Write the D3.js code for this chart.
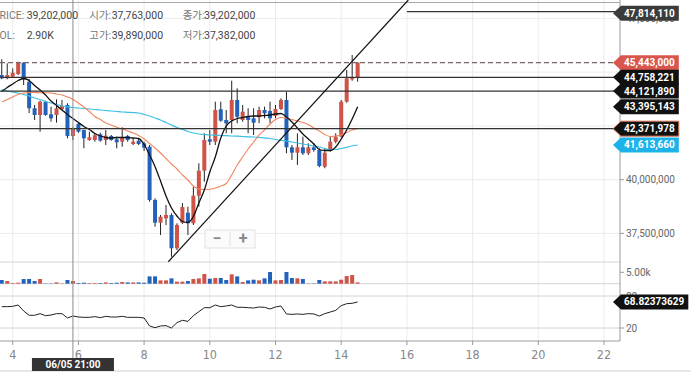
<!DOCTYPE html>
<html>
<head>
<meta charset="utf-8">
<script src="https://cdn.jsdelivr.net/npm/d3@7"></script>
<style>
  body { margin: 0; background: #fff; }
  svg { display: block; font-family: Roboto, 'Noto Sans CJK KR', sans-serif; }
</style>
</head>
<body>
<svg id="chart" width="691" height="372"></svg>
<script>
// 4h candles, first one at 06/03 16:00
const start = new Date(2021, 5, 3, 16)

const opens = [44868000, 44714000, 44788000, 44914000, 45440000, 44556000, 43319000, 43007000, 43626000, 43040000,
  43007000, 43272000, 43472000, 42030000, 42589000, 42309000, 41844000, 41844000, 42109000, 41844000,
  42030000, 41877000, 41765000, 42030000, 41658000, 41812000, 41691000, 41533000, 39054000, 37998000,
  38202000, 38356000, 36807000, 37990000, 38463000, 37970000, 39254000, 40416000, 41877000, 41765000,
  43272000, 42775000, 42775000, 43705000, 42775000, 42961000, 42854000, 42900000, 43240000, 43193000,
  42961000, 43286000, 43705000, 41505000, 41254000, 41505000, 41226000, 41505000, 41379000, 40602000,
  41379000, 41765000, 41998000, 43626000, 44668000, 44760000]
const highs = [45598000, 45411000, 45179000, 45486000, 45460000, 44681000, 43472000, 43670000, 43670000, 43393000,
  43737000, 43705000, 43551000, 42435000, 42649000, 42320000, 42230000, 42156000, 42180000, 42309000,
  42077000, 41998000, 42435000, 42077000, 41923000, 41923000, 41765000, 41612000, 39133000, 38356000,
  38821000, 38435000, 37970000, 38910000, 38742000, 39672000, 40761000, 42156000, 42309000, 43626000,
  43626000, 43240000, 44602000, 44249000, 43472000, 43319000, 43319000, 43393000, 43393000, 43626000,
  43472000, 43784000, 44091000, 41612000, 42156000, 41998000, 41691000, 41691000, 41458000, 41458000,
  41998000, 42156000, 43705000, 45100000, 45797000, 45460000]
const lows = [44668000, 44668000, 44770000, 44868000, 44402000, 43100000, 42775000, 42230000, 42970000, 42695000,
  42649000, 43240000, 41923000, 41844000, 42180000, 41458000, 41812000, 41765000, 41765000, 41612000,
  41812000, 41458000, 41533000, 41765000, 41612000, 41612000, 41333000, 38975000, 37812000, 37426000,
  37891000, 36416000, 36728000, 37940000, 37426000, 37891000, 38742000, 39905000, 41612000, 41612000,
  42695000, 42156000, 42156000, 42621000, 42695000, 42156000, 42077000, 42621000, 42854000, 42621000,
  42854000, 43240000, 41226000, 40914000, 40682000, 41150000, 41150000, 41300000, 40575000, 40530000,
  41300000, 41691000, 41970000, 43579000, 44602000, 44556000]
const closes = [44714000, 44868000, 44974000, 45440000, 44668000, 43319000, 43007000, 43626000, 43007000, 42854000,
  43319000, 43426000, 42030000, 42356000, 42230000, 41923000, 41970000, 42063000, 41812000, 42044000,
  41844000, 41737000, 41970000, 41844000, 41765000, 41658000, 41486000, 39054000, 37998000, 38277000,
  38356000, 36807000, 37891000, 38728000, 37970000, 39254000, 40416000, 41844000, 41765000, 43240000,
  42742000, 42621000, 43705000, 42928000, 43161000, 42775000, 42649000, 43240000, 43086000, 42854000,
  43286000, 43705000, 41505000, 41254000, 41505000, 41226000, 41505000, 41379000, 40635000, 41254000,
  41765000, 41998000, 43626000, 44714000, 44760000, 45443000]
const volumes = [1610, 1170, 290, 440, 2050, 2050, 1170, 2050, 150, 150,
  580, 150, 1610, 1170, 290, 440, 290, 290, 290, 580,
  290, 440, 730, 580, 580, 580, 440, 3220, 3220, 1460,
  1460, 2340, 880, 880, 1170, 2050, 2340, 4240, 2190, 2490,
  2490, 1610, 4090, 3220, 730, 1460, 1750, 1460, 2340, 5120,
  1460, 1610, 5120, 2490, 2340, 2050, 150, 150, 1610, 1020,
  1020, 1020, 1750, 3360, 3800, 580]

const maShort = [44100000, 44286000, 44449000, 44612000, 44705000, 44612000, 44379000, 44170000, 43937000, 43658000,
  43449000, 43240000, 43030000, 42844000, 42658000, 42472000, 42333000, 42147000, 42030000, 41961000,
  41937000, 41961000, 41961000, 41961000, 41937000, 41914000, 41635000, 41147000, 40602000, 39937000,
  39240000, 38682000, 38309000, 38054000, 38007000, 38286000, 38914000, 39519000, 40356000, 41054000,
  41937000, 42495000, 42728000, 42844000, 42891000, 42937000, 42961000, 42961000, 42984000, 43007000,
  43054000, 43077000, 42914000, 42682000, 42402000, 42123000, 41891000, 41658000, 41402000, 41356000,
  41356000, 41519000, 41891000, 42309000, 42821000, 43395143]
const maMid = [43612000, 43728000, 43844000, 43961000, 44030000, 44054000, 44054000, 44044000, 44044000, 44030000,
  43984000, 43937000, 43844000, 43728000, 43565000, 43379000, 43170000, 42937000, 42798000, 42635000,
  42542000, 42435000, 42356000, 42263000, 42170000, 42054000, 41891000, 41682000, 41472000, 41240000,
  40984000, 40728000, 40495000, 40216000, 39984000, 39705000, 39565000, 39542000, 39551000, 39612000,
  39705000, 39821000, 40216000, 40682000, 41054000, 41426000, 41751000, 42077000, 42309000, 42589000,
  42798000, 42891000, 42868000, 42798000, 42728000, 42658000, 42565000, 42402000, 42263000, 42100000,
  42007000, 42030000, 42077000, 42193000, 42309000, 42371978]
const maLong = [44184000, 44123000, 44077000, 44030000, 43961000, 43891000, 43798000, 43728000, 43635000, 43565000,
  43496000, 43426000, 43389000, 43356000, 43333000, 43309000, 43286000, 43263000, 43240000, 43216000,
  43193000, 43170000, 43147000, 43133000, 43119000, 43100000, 43030000, 42961000, 42868000, 42775000,
  42658000, 42542000, 42426000, 42333000, 42240000, 42170000, 42123000, 42100000, 42077000, 42068000,
  42054000, 42044000, 42030000, 42021000, 42007000, 41993000, 41984000, 41970000, 41947000, 41914000,
  41868000, 41830000, 41798000, 41751000, 41705000, 41658000, 41612000, 41565000, 41519000, 41449000,
  41402000, 41402000, 41449000, 41505000, 41565000, 41613660]
const rsi = [60.0, 60.0, 60.6, 63.1, 51.9, 43.8, 43.8, 46.9, 43.1, 44.4,
  46.9, 46.9, 38.8, 42.5, 40.6, 40.0, 40.0, 41.3, 39.4, 41.9,
  40.6, 40.6, 41.9, 40.0, 40.0, 40.0, 38.8, 23.8, 20.6, 23.8,
  24.4, 20.0, 30.0, 34.4, 32.5, 43.1, 50.6, 58.1, 58.1, 63.1,
  60.0, 61.3, 63.1, 58.8, 58.8, 58.1, 57.5, 59.4, 58.8, 55.6,
  59.4, 61.3, 46.3, 45.6, 46.3, 45.6, 46.9, 46.3, 42.5, 46.9,
  50.0, 53.1, 61.9, 65.6, 66.3, 68.82373629]

// horizontal lines drawn on the chart
const levels = [44758221, 44121890, 42371978]
const topLevel = 47814110
const topLevelStart = new Date(2021, 5, 16, 0)
const lastPrice = 45443000
const trendPoints = [[new Date(2021, 5, 8, 17, 41), 36180000], [new Date(2021, 5, 16, 1, 2), 48356000]]

const priceTicks = [37500000, 40000000, 42500000, 45000000, 47500000]
const dayTicks = [4, 6, 8, 10, 12, 14, 16, 18, 20, 22]
const crossIndex = 13
const crossLabel = '06/05 21:00'
const legendRows = [
  [['PRICE:', '39,202,000'], ['시가:', '37,763,000'], ['종가:', '39,202,000']],
  [['VOL:', '2.90K'], ['고가:', '39,890,000'], ['저가:', '37,382,000']]
]

const UP = '#cf5347'
const DOWN = '#2262bb'
const plotRight = 620
const mainBottom = 262
const axisY = 341

const svg = d3.select('#chart')
const times = opens.map((d, i) => d3.timeHour.offset(start, 4 * i))

const x = d3.scaleTime()
  .domain([new Date(2021, 5, 3, 14, 43), new Date(2021, 5, 22, 11, 41)])
  .range([0, plotRight])
const y = d3.scaleLinear().domain([37500000, 47500000]).range([233.4, 18.4])
const yVol = d3.scaleLinear().domain([0, 5000]).range([283.7, 272.3])
const yRsi = d3.scaleLinear().domain([20, 80]).range([328, 296])
const dayDate = d => new Date(2021, 5, d)

svg.append('clipPath').attr('id', 'mainClip')
  .append('rect').attr('x', 0).attr('y', 0).attr('width', plotRight).attr('height', mainBottom)

// grid
const grid = svg.append('g')
grid.selectAll('.vg').data(dayTicks).join('line')
  .attr('x1', d => x(dayDate(d))).attr('x2', d => x(dayDate(d)))
  .attr('y1', 0).attr('y2', axisY)
  .attr('stroke', '#ebebeb')
grid.selectAll('.hg').data(priceTicks).join('line')
  .attr('x1', 0).attr('x2', plotRight)
  .attr('y1', d => y(d)).attr('y2', d => y(d))
  .attr('stroke', '#ebebeb')
grid.selectAll('.pl').data([mainBottom, yVol(0), yRsi(80), yRsi(20)]).join('line')
  .attr('x1', 0).attr('x2', plotRight)
  .attr('y1', d => d).attr('y2', d => d)
  .attr('stroke', '#d4d4d4')
grid.append('line')
  .attr('x1', 0).attr('x2', plotRight).attr('y1', 2.5).attr('y2', 2.5)
  .attr('stroke', '#a8a8a8')

// volume
const isUp = i => closes[i] >= opens[i]
svg.append('g').selectAll('rect').data(volumes).join('rect')
  .attr('x', (d, i) => x(times[i]) - 2)
  .attr('width', 4)
  .attr('y', d => yVol(d))
  .attr('height', d => yVol(0) - yVol(d))
  .attr('fill', (d, i) => isUp(i) ? UP : DOWN)

// rsi
svg.append('path')
  .datum(rsi)
  .attr('fill', 'none')
  .attr('stroke', '#222')
  .attr('stroke-width', 1)
  .attr('d', d3.line().x((d, i) => x(times[i])).y(d => yRsi(d)))

// main panel
const main = svg.append('g').attr('clip-path', 'url(#mainClip)')

const candles = main.append('g').selectAll('g').data(opens).join('g')
candles.append('line')
  .attr('x1', (d, i) => x(times[i])).attr('x2', (d, i) => x(times[i]))
  .attr('y1', (d, i) => y(highs[i])).attr('y2', (d, i) => y(lows[i]))
  .attr('stroke', '#222')
candles.append('rect')
  .attr('x', (d, i) => x(times[i]) - 2)
  .attr('width', 4)
  .attr('y', (d, i) => y(Math.max(opens[i], closes[i])))
  .attr('height', (d, i) => Math.max(1, Math.abs(y(opens[i]) - y(closes[i]))))
  .attr('fill', (d, i) => isUp(i) ? UP : DOWN)

const maLine = d3.line().curve(d3.curveMonotoneX).x((d, i) => x(times[i])).y(d => y(d))
const maSeries = [
  { values: maLong, color: '#3ec0e6', width: 1.2 },
  { values: maMid, color: '#f2845f', width: 1.1 },
  { values: maShort, color: '#111', width: 1.3 }
]
main.selectAll('.ma').data(maSeries).join('path')
  .attr('fill', 'none')
  .attr('stroke', d => d.color)
  .attr('stroke-width', d => d.width)
  .attr('d', d => maLine(d.values))

main.selectAll('.lvl').data(levels).join('line')
  .attr('x1', 0).attr('x2', plotRight)
  .attr('y1', d => y(d)).attr('y2', d => y(d))
  .attr('stroke', '#333')
  .attr('stroke-width', 1.2)
main.append('line')
  .attr('x1', x(topLevelStart)).attr('x2', plotRight)
  .attr('y1', y(topLevel)).attr('y2', y(topLevel))
  .attr('stroke', '#333')
  .attr('stroke-width', 1.2)
main.append('line')
  .attr('x1', 0).attr('x2', plotRight)
  .attr('y1', y(lastPrice)).attr('y2', y(lastPrice))
  .attr('stroke', '#7a6464')
  .attr('stroke-width', 1.2)
  .attr('stroke-dasharray', '5,3')

main.append('path')
  .datum(trendPoints)
  .attr('fill', 'none')
  .attr('stroke', '#111')
  .attr('stroke-width', 1.2)
  .attr('d', d3.line().x(d => x(d[0])).y(d => y(d[1])))

// zoom buttons
const zoomBox = svg.append('g').attr('transform', 'translate(205,230)')
zoomBox.append('rect').attr('width', 50).attr('height', 18)
  .attr('fill', '#fbfbfb').attr('stroke', '#e2e2e2')
zoomBox.append('line').attr('x1', 25).attr('x2', 25).attr('y1', 2).attr('y2', 16).attr('stroke', '#e2e2e2')
zoomBox.selectAll('text').data(['−', '+']).join('text')
  .attr('x', (d, i) => 12 + i * 26).attr('y', 14)
  .attr('text-anchor', 'middle')
  .attr('font-size', 16).attr('font-weight', 'bold')
  .attr('fill', '#8a8a8a')
  .text(d => d)

// crosshair
const cx = x(times[crossIndex])
svg.append('line')
  .attr('x1', cx).attr('x2', cx).attr('y1', 0).attr('y2', 358)
  .attr('stroke', '#8c8c8c')

// axes
svg.append('line').attr('x1', plotRight).attr('x2', plotRight).attr('y1', 0).attr('y2', axisY).attr('stroke', '#9a9a9a')
svg.append('line').attr('x1', 0).attr('x2', plotRight).attr('y1', axisY).attr('y2', axisY).attr('stroke', '#9a9a9a')
svg.append('line').attr('x1', 0).attr('x2', 691).attr('y1', 371).attr('y2', 371).attr('stroke', '#cfcfcf')

const xAxis = svg.append('g')
xAxis.selectAll('line').data(dayTicks).join('line')
  .attr('x1', d => x(dayDate(d))).attr('x2', d => x(dayDate(d)))
  .attr('y1', axisY).attr('y2', axisY + 4)
  .attr('stroke', '#9a9a9a')
xAxis.selectAll('text').data(dayTicks).join('text')
  .attr('x', d => x(dayDate(d))).attr('y', axisY + 18)
  .attr('text-anchor', 'middle')
  .attr('font-family', "'Liberation Sans Narrow', 'DejaVu Sans Condensed', Roboto")
  .attr('font-size', 12.5)
  .attr('fill', '#888')
  .text(d => d)

const rightTicks = priceTicks.map(d => ({ y: y(d), text: d3.format(',')(d) }))
  .concat([{ y: yVol(5000), text: '5.00k' }, { y: yRsi(80), text: '80' }, { y: yRsi(20), text: '20' }])
const yAxis = svg.append('g')
yAxis.selectAll('line').data(rightTicks).join('line')
  .attr('x1', plotRight).attr('x2', plotRight + 4)
  .attr('y1', d => d.y).attr('y2', d => d.y)
  .attr('stroke', '#9a9a9a')
yAxis.selectAll('text').data(rightTicks).join('text')
  .attr('x', plotRight + 6).attr('y', d => d.y + 3.5)
  .attr('font-size', 10)
  .attr('fill', '#666')
  .text(d => d.text)

// value tags on the right axis
function tag(yPos, text, fill, textColor, stroke) {
  const g = svg.append('g').attr('transform', 'translate(' + (plotRight - 7) + ',' + yPos + ')')
  const path = g.append('path')
  const t = g.append('text')
    .attr('x', 11).attr('y', 3.5)
    .attr('font-size', 10).attr('font-weight', 'bold')
    .attr('fill', textColor)
    .text(text)
  const w = t.node().getComputedTextLength() + 15
  path.attr('d', 'M0,0L8,-7.5L' + w + ',-7.5L' + w + ',7.5L8,7.5Z')
    .attr('fill', fill)
    .attr('stroke', stroke || 'none')
}
tag(y(topLevel) + 1.5, d3.format(',')(topLevel), '#3b3b3b', '#fff')
tag(y(lastPrice), d3.format(',')(lastPrice), '#d9564c', '#fff')
tag(y(levels[0]), d3.format(',')(levels[0]), '#111', '#fff')
tag(y(levels[1]), d3.format(',')(levels[1]), '#111', '#fff')
tag(y(maShort[maShort.length - 1]), d3.format(',')(maShort[maShort.length - 1]), '#111', '#fff')
tag(y(levels[2]), d3.format(',')(levels[2]), '#111', '#fff', '#e07a5a')
tag(y(maLong[maLong.length - 1]), d3.format(',')(maLong[maLong.length - 1]), '#1db3ea', '#fff')
tag(yRsi(rsi[rsi.length - 1]), String(rsi[rsi.length - 1]), '#111', '#fff')

// crosshair time label
const cl = svg.append('g').attr('transform', 'translate(' + cx + ',358)')
cl.append('rect').attr('x', -41).attr('width', 82).attr('height', 13).attr('fill', '#333')
cl.append('text').attr('y', 10).attr('text-anchor', 'middle')
  .attr('font-size', 10).attr('font-weight', 'bold').attr('fill', '#fff')
  .text(crossLabel)

// legend
const legendCols = [[-7, 26.7], [89.3, 111.7], [182.7, 204]]
legendRows.forEach((row, r) => {
  row.forEach((item, c) => {
    svg.append('text')
      .attr('x', legendCols[c][0]).attr('y', 18.5 + r * 20)
      .attr('font-size', 10.5).attr('fill', '#777')
      .text(item[0])
    svg.append('text')
      .attr('x', legendCols[c][1]).attr('y', 18.5 + r * 20)
      .attr('font-size', 10.5).attr('fill', '#444')
      .text(item[1])
  })
})
</script>
</body>
</html>
